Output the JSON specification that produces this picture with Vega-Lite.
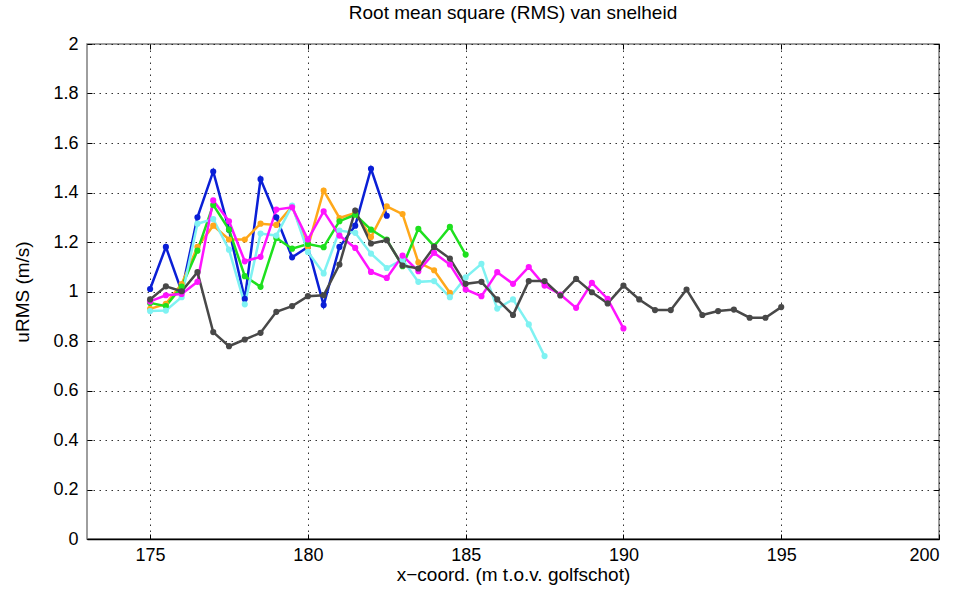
{
  "$schema": "https://vega.github.io/schema/vega-lite/v6.json",
  "width": 852,
  "height": 495,
  "autosize": {"type": "none"},
  "padding": {"left": 87, "top": 44, "right": 21, "bottom": 55},
  "background": "white",
  "title": {
    "text": "Root mean square (RMS) van snelheid",
    "font": "Liberation Sans",
    "fontSize": 19,
    "fontWeight": "normal",
    "color": "#000000",
    "offset": 12
  },
  "config": {
    "view": {"stroke": "#7f7f7f", "strokeWidth": 1.5},
    "axis": {
      "labelFont": "Liberation Sans",
      "titleFont": "Liberation Sans",
      "labelFontSize": 18,
      "titleFontSize": 19,
      "titleFontWeight": "normal",
      "labelColor": "#000000",
      "titleColor": "#000000",
      "domainColor": "#000000",
      "tickColor": "#000000",
      "gridColor": "#000000",
      "gridOpacity": 0.8,
      "gridDash": [1.5, 4.5],
      "gridWidth": 1
    }
  },
  "data": {
    "values": [
      {"reeks": "b", "x": 175, "u": 1.01}, {"reeks": "b", "x": 175.5, "u": 1.18}, {"reeks": "b", "x": 176, "u": 1.0},
      {"reeks": "b", "x": 176.5, "u": 1.3}, {"reeks": "b", "x": 177, "u": 1.485}, {"reeks": "b", "x": 177.5, "u": 1.25},
      {"reeks": "b", "x": 178, "u": 0.97}, {"reeks": "b", "x": 178.5, "u": 1.454}, {"reeks": "b", "x": 179, "u": 1.3},
      {"reeks": "b", "x": 179.5, "u": 1.138}, {"reeks": "b", "x": 180, "u": 1.18}, {"reeks": "b", "x": 180.5, "u": 0.945},
      {"reeks": "b", "x": 181, "u": 1.18}, {"reeks": "b", "x": 181.5, "u": 1.266}, {"reeks": "b", "x": 182, "u": 1.496},
      {"reeks": "b", "x": 182.5, "u": 1.306},

      {"reeks": "c", "x": 175, "u": 0.93}, {"reeks": "c", "x": 175.5, "u": 0.95}, {"reeks": "c", "x": 176, "u": 1.03},
      {"reeks": "c", "x": 176.5, "u": 1.18}, {"reeks": "c", "x": 177, "u": 1.266}, {"reeks": "c", "x": 177.5, "u": 1.21},
      {"reeks": "c", "x": 178, "u": 1.21}, {"reeks": "c", "x": 178.5, "u": 1.274}, {"reeks": "c", "x": 179, "u": 1.269},
      {"reeks": "c", "x": 179.5, "u": 1.344}, {"reeks": "c", "x": 180, "u": 1.18}, {"reeks": "c", "x": 180.5, "u": 1.408},
      {"reeks": "c", "x": 181, "u": 1.297}, {"reeks": "c", "x": 181.5, "u": 1.317}, {"reeks": "c", "x": 182, "u": 1.22},
      {"reeks": "c", "x": 182.5, "u": 1.344}, {"reeks": "c", "x": 183, "u": 1.313}, {"reeks": "c", "x": 183.5, "u": 1.118},
      {"reeks": "c", "x": 184, "u": 1.086}, {"reeks": "c", "x": 184.5, "u": 0.995},

      {"reeks": "d", "x": 175, "u": 0.954}, {"reeks": "d", "x": 175.5, "u": 0.941}, {"reeks": "d", "x": 176, "u": 1.02},
      {"reeks": "d", "x": 176.5, "u": 1.165}, {"reeks": "d", "x": 177, "u": 1.35}, {"reeks": "d", "x": 177.5, "u": 1.25},
      {"reeks": "d", "x": 178, "u": 1.062}, {"reeks": "d", "x": 178.5, "u": 1.019}, {"reeks": "d", "x": 179, "u": 1.216},
      {"reeks": "d", "x": 179.5, "u": 1.173}, {"reeks": "d", "x": 180, "u": 1.192}, {"reeks": "d", "x": 180.5, "u": 1.179},
      {"reeks": "d", "x": 181, "u": 1.284}, {"reeks": "d", "x": 181.5, "u": 1.31}, {"reeks": "d", "x": 182, "u": 1.25},
      {"reeks": "d", "x": 182.5, "u": 1.21}, {"reeks": "d", "x": 183, "u": 1.102}, {"reeks": "d", "x": 183.5, "u": 1.253},
      {"reeks": "d", "x": 184, "u": 1.183}, {"reeks": "d", "x": 184.5, "u": 1.261}, {"reeks": "d", "x": 185, "u": 1.149},

      {"reeks": "e", "x": 175, "u": 0.921}, {"reeks": "e", "x": 175.5, "u": 0.923}, {"reeks": "e", "x": 176, "u": 0.977},
      {"reeks": "e", "x": 176.5, "u": 1.274}, {"reeks": "e", "x": 177, "u": 1.293}, {"reeks": "e", "x": 177.5, "u": 1.169},
      {"reeks": "e", "x": 178, "u": 0.948}, {"reeks": "e", "x": 178.5, "u": 1.234}, {"reeks": "e", "x": 179, "u": 1.226},
      {"reeks": "e", "x": 179.5, "u": 1.347}, {"reeks": "e", "x": 180, "u": 1.16}, {"reeks": "e", "x": 180.5, "u": 1.073},
      {"reeks": "e", "x": 181, "u": 1.246}, {"reeks": "e", "x": 181.5, "u": 1.237}, {"reeks": "e", "x": 182, "u": 1.153},
      {"reeks": "e", "x": 182.5, "u": 1.095}, {"reeks": "e", "x": 183, "u": 1.129}, {"reeks": "e", "x": 183.5, "u": 1.039},
      {"reeks": "e", "x": 184, "u": 1.042}, {"reeks": "e", "x": 184.5, "u": 0.977}, {"reeks": "e", "x": 185, "u": 1.057},
      {"reeks": "e", "x": 185.5, "u": 1.112}, {"reeks": "e", "x": 186, "u": 0.931}, {"reeks": "e", "x": 186.5, "u": 0.968},
      {"reeks": "e", "x": 187, "u": 0.867}, {"reeks": "e", "x": 187.5, "u": 0.739},

      {"reeks": "f", "x": 175, "u": 0.96}, {"reeks": "f", "x": 175.5, "u": 0.985}, {"reeks": "f", "x": 176, "u": 0.99},
      {"reeks": "f", "x": 176.5, "u": 1.039}, {"reeks": "f", "x": 177, "u": 1.368}, {"reeks": "f", "x": 177.5, "u": 1.284},
      {"reeks": "f", "x": 178, "u": 1.122}, {"reeks": "f", "x": 178.5, "u": 1.14}, {"reeks": "f", "x": 179, "u": 1.331},
      {"reeks": "f", "x": 179.5, "u": 1.34}, {"reeks": "f", "x": 180, "u": 1.21}, {"reeks": "f", "x": 180.5, "u": 1.324},
      {"reeks": "f", "x": 181, "u": 1.226}, {"reeks": "f", "x": 181.5, "u": 1.176}, {"reeks": "f", "x": 182, "u": 1.079},
      {"reeks": "f", "x": 182.5, "u": 1.055}, {"reeks": "f", "x": 183, "u": 1.145}, {"reeks": "f", "x": 183.5, "u": 1.082},
      {"reeks": "f", "x": 184, "u": 1.156}, {"reeks": "f", "x": 184.5, "u": 1.109}, {"reeks": "f", "x": 185, "u": 1.008},
      {"reeks": "f", "x": 185.5, "u": 0.981}, {"reeks": "f", "x": 186, "u": 1.078}, {"reeks": "f", "x": 186.5, "u": 1.031},
      {"reeks": "f", "x": 187, "u": 1.099}, {"reeks": "f", "x": 187.5, "u": 1.024}, {"reeks": "f", "x": 188, "u": 0.988},
      {"reeks": "f", "x": 188.5, "u": 0.934}, {"reeks": "f", "x": 189, "u": 1.035}, {"reeks": "f", "x": 189.5, "u": 0.97},
      {"reeks": "f", "x": 190, "u": 0.851},

      {"reeks": "g", "x": 175, "u": 0.968}, {"reeks": "g", "x": 175.5, "u": 1.021}, {"reeks": "g", "x": 176, "u": 1.001},
      {"reeks": "g", "x": 176.5, "u": 1.078}, {"reeks": "g", "x": 177, "u": 0.836}, {"reeks": "g", "x": 177.5, "u": 0.779},
      {"reeks": "g", "x": 178, "u": 0.806}, {"reeks": "g", "x": 178.5, "u": 0.833}, {"reeks": "g", "x": 179, "u": 0.918},
      {"reeks": "g", "x": 179.5, "u": 0.941}, {"reeks": "g", "x": 180, "u": 0.981}, {"reeks": "g", "x": 180.5, "u": 0.985},
      {"reeks": "g", "x": 181, "u": 1.109}, {"reeks": "g", "x": 181.5, "u": 1.327}, {"reeks": "g", "x": 182, "u": 1.194},
      {"reeks": "g", "x": 182.5, "u": 1.207}, {"reeks": "g", "x": 183, "u": 1.105}, {"reeks": "g", "x": 183.5, "u": 1.093},
      {"reeks": "g", "x": 184, "u": 1.18}, {"reeks": "g", "x": 184.5, "u": 1.133}, {"reeks": "g", "x": 185, "u": 1.031},
      {"reeks": "g", "x": 185.5, "u": 1.039}, {"reeks": "g", "x": 186, "u": 0.968}, {"reeks": "g", "x": 186.5, "u": 0.905},
      {"reeks": "g", "x": 187, "u": 1.042}, {"reeks": "g", "x": 187.5, "u": 1.042}, {"reeks": "g", "x": 188, "u": 0.984},
      {"reeks": "g", "x": 188.5, "u": 1.051}, {"reeks": "g", "x": 189, "u": 0.997}, {"reeks": "g", "x": 189.5, "u": 0.952},
      {"reeks": "g", "x": 190, "u": 1.024}, {"reeks": "g", "x": 190.5, "u": 0.968}, {"reeks": "g", "x": 191, "u": 0.925},
      {"reeks": "g", "x": 191.5, "u": 0.925}, {"reeks": "g", "x": 192, "u": 1.008}, {"reeks": "g", "x": 192.5, "u": 0.905},
      {"reeks": "g", "x": 193, "u": 0.921}, {"reeks": "g", "x": 193.5, "u": 0.927}, {"reeks": "g", "x": 194, "u": 0.894},
      {"reeks": "g", "x": 194.5, "u": 0.894}, {"reeks": "g", "x": 195, "u": 0.937}
    ]
  },
  "layer": [
    {
      "mark": {
        "type": "line",
        "strokeWidth": 2.5,
        "point": {"filled": true, "size": 38, "opacity": 1}
      },
      "encoding": {
        "x": {
          "field": "x",
          "type": "quantitative",
          "scale": {"domain": [173, 200], "nice": false, "zero": false},
          "axis": {
            "orient": "bottom",
            "title": "x−coord. (m t.o.v. golfschot)",
            "values": [175, 180, 185, 190, 195, 200],
            "grid": true,
            "tickSize": -5,
            "labelPadding": 12,
            "titlePadding": 1,
            "domain": true,
            "domainColor": "#000000",
            "domainWidth": 1.5
          }
        },
        "y": {
          "field": "u",
          "type": "quantitative",
          "scale": {"domain": [0, 2], "nice": false},
          "axis": {
            "orient": "left",
            "title": "uRMS (m/s)",
            "values": [0, 0.2, 0.4, 0.6, 0.8, 1, 1.2, 1.4, 1.6, 1.8, 2],
            "format": "~g",
            "grid": true,
            "tickSize": -5,
            "labelPadding": 14,
            "titlePadding": 20,
            "domain": false
          }
        },
        "color": {
          "field": "reeks",
          "type": "nominal",
          "legend": null,
          "scale": {
            "domain": ["b", "c", "d", "e", "f", "g"],
            "range": ["#0a1fd6", "#ffa81a", "#1ee01e", "#7ff2f2", "#ff14ff", "#484848"]
          }
        }
      }
    },
    {
      "mark": {"type": "point", "opacity": 0},
      "encoding": {
        "x": {
          "field": "x",
          "type": "quantitative",
          "scale": {"domain": [173, 200], "nice": false, "zero": false},
          "axis": {
            "orient": "top",
            "title": null,
            "labels": false,
            "values": [175, 180, 185, 190, 195, 200],
            "grid": false,
            "tickSize": -5,
            "domain": false
          }
        },
        "y": {
          "field": "u",
          "type": "quantitative",
          "scale": {"domain": [0, 2], "nice": false},
          "axis": {
            "orient": "right",
            "title": null,
            "labels": false,
            "values": [0, 0.2, 0.4, 0.6, 0.8, 1, 1.2, 1.4, 1.6, 1.8, 2],
            "grid": false,
            "tickSize": -5,
            "domain": false
          }
        }
      }
    }
  ],
  "resolve": {"axis": {"x": "independent", "y": "independent"}}
}
